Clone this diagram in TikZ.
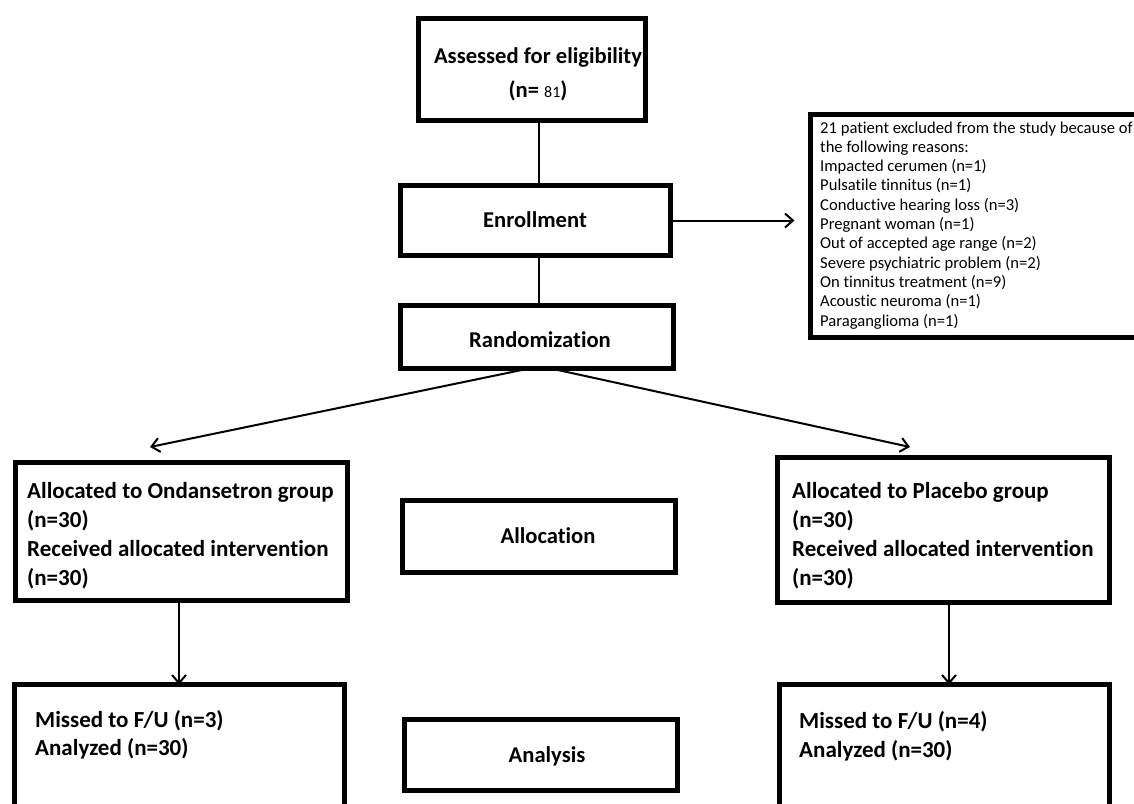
\documentclass[tikz,border=0pt]{standalone}
\usepackage{fontspec}
\setmainfont{Carlito}[Ligatures=NoCommon]
\usetikzlibrary{arrows.meta,calc}
\begin{document}
\begin{tikzpicture}[x=1pt,y=-1pt,
  box/.style={draw, line width=5pt, inner sep=0pt, outer sep=0pt},
  conn/.style={line width=2pt},
  arr/.style={conn, -{Straight Barb[length=8pt,width=14pt,line width=2pt]}},
  big/.style={font=\bfseries\fontsize{23}{28}\selectfont, inner sep=0pt, anchor=base west},
  mid/.style={font=\bfseries\fontsize{22.6}{27}\selectfont, inner sep=0pt, anchor=base},
  small/.style={font=\fontsize{16.6}{19}\selectfont, inner sep=0pt, anchor=base west}]
\useasboundingbox (0,0) rectangle (1134,803);
\fill[white] (0,0) rectangle (1134,803);
% boxes
\node[box, minimum width=227pt, minimum height=102pt] (assess) at (532,69.5) {};
\node[box, minimum width=270pt, minimum height=70pt] (enroll) at (535.5,220.5) {};
\node[box, minimum width=273pt, minimum height=63pt] (random) at (537,337) {};
\node[box, minimum width=340pt, minimum height=223pt] (excl) at (980.5,226) {};
\node[box, minimum width=332pt, minimum height=138pt] (allocL) at (181.5,531.5) {};
\node[box, minimum width=332pt, minimum height=145pt] (allocR) at (943.5,530) {};
\node[box, minimum width=273pt, minimum height=72pt] (allocM) at (539,536.5) {};
\node[box, minimum width=330pt, minimum height=145pt] (botL) at (179.5,757) {};
\node[box, minimum width=330pt, minimum height=145pt] (botR) at (944.5,757) {};
\node[box, minimum width=273pt, minimum height=71pt] (anal) at (541,755) {};
% texts
\node[mid] (assessA) at (538,63) {Assessed for eligibility};
\node[mid] (assessN) at (538,97) {(n= {\mdseries\fontsize{16}{18}\selectfont 81})};
\node[mid] (enrollT) at (535,227) {Enrollment};
\node[mid] (randomT) at (540,347) {Randomization};
\node[mid] (allocT) at (548,543) {Allocation};
\node[mid] (analT) at (547,762) {Analysis};
\foreach \t [count=\i] in {21 patient excluded from the study because of,
  the following reasons:, Impacted cerumen (n=1), Pulsatile tinnitus (n=1),
  Conductive hearing loss (n=3), Pregnant woman (n=1),
  Out of accepted age range (n=2), Severe psychiatric problem (n=2),
  On tinnitus treatment (n=9), Acoustic neuroma (n=1), Paraganglioma (n=1)}
  \node[small] (ex\i) at (820,{133+19.3*(\i-1)}) {\t};
\node[big] (l1) at (27,498) {Allocated to Ondansetron group};
\node[big] (l2) at (27,527) {(n=30)};
\node[big] (l3) at (27,556) {Received allocated intervention};
\node[big] (l4) at (27,585) {(n=30)};
\node[big] (r1) at (792,498) {Allocated to Placebo group};
\node[big] (r2) at (792,527) {(n=30)};
\node[big] (r3) at (792,556) {Received allocated intervention};
\node[big] (r4) at (792,585) {(n=30)};
\node[big] (bl1) at (35,727) {Missed to F/U (n=3)};
\node[big] (bl2) at (35,755) {Analyzed (n=30)};
\node[big] (br1) at (799,728) {Missed to F/U (n=4)};
\node[big] (br2) at (799,757) {Analyzed (n=30)};
% connectors
\coordinate (spine) at (539,0);
\coordinate (lspine) at (179,0);
\coordinate (rspine) at (949,0);
\coordinate (tipL) at (150,447);
\coordinate (tipR) at (910,447);
\draw[conn] (assess.south -| spine) -- (enroll.north -| spine);
\draw[conn] (enroll.south -| spine) -- (random.north -| spine);
\draw[arr, shorten >=16pt] (enroll.east) -- (excl.west |- enroll.east);
\draw[arr] ([xshift=-8pt]random.south) -- (tipL);
\draw[arr] ([xshift=14pt]random.south) -- (tipR);
\draw[arr] (allocL.south -| lspine) -- (botL.north -| lspine);
\draw[arr] (allocR.south -| rspine) -- (botR.north -| rspine);
\end{tikzpicture}
\end{document}
